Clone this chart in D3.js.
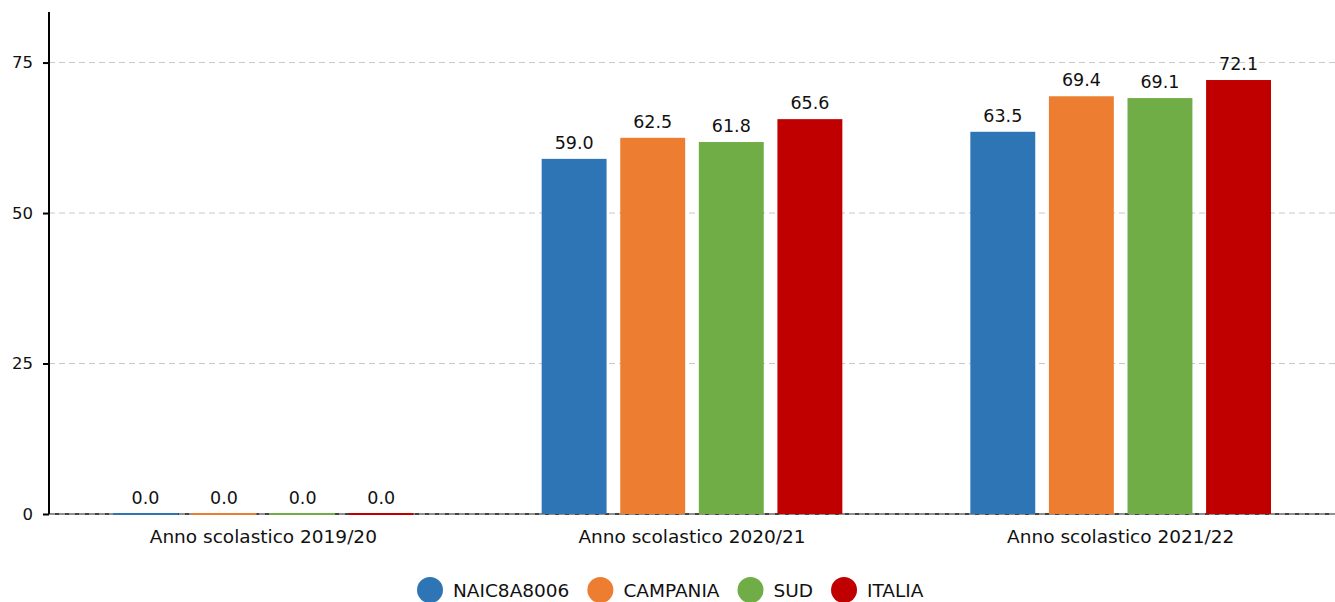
<!DOCTYPE html>
<html>
<head>
<meta charset="utf-8">
<script src="https://cdn.jsdelivr.net/npm/d3@7"></script>
<style>
  body { margin: 0; background: #fff; }
  svg text { font-family: "DejaVu Sans", sans-serif; fill: #111; }
</style>
</head>
<body>
<svg id="chart" width="1335" height="602"></svg>
<script>
// data
const categories = ["Anno scolastico 2019/20", "Anno scolastico 2020/21", "Anno scolastico 2021/22"];
const seriesNames = ["NAIC8A8006", "CAMPANIA", "SUD", "ITALIA"];
const seriesColors = ["#2e75b6", "#ed7d31", "#70ad47", "#c00000"];
const naic = [0.0, 59.0, 63.5];
const campania = [0.0, 62.5, 69.4];
const sud = [0.0, 61.8, 69.1];
const italia = [0.0, 65.6, 72.1];
const yTicks = [0, 25, 50, 75];

const values = [naic, campania, sud, italia];

var svg = d3.select("#chart");
var margin = {top: 12, right: 0, bottom: 88, left: 49};
var width = 1335 - margin.left - margin.right;
var height = 602 - margin.top - margin.bottom;

var x0 = d3.scaleBand().domain(categories).range([0, width]).padding(0);
var x1 = d3.scaleBand().domain(seriesNames).range([64, x0.bandwidth() - 64]).paddingInner(0.174);
var y = d3.scaleLinear().domain([0, 83.4]).range([height, 0]);

var g = svg.append("g")
    .attr("transform", "translate(" + margin.left + "," + margin.top + ")");

// grid
g.append("g")
  .selectAll("line")
  .data(yTicks.filter(t => t > 0))
  .enter().append("line")
    .attr("x1", 0)
    .attr("x2", width)
    .attr("y1", d => y(d))
    .attr("y2", d => y(d))
    .attr("stroke", "#c8c8c8")
    .attr("stroke-width", 1)
    .attr("stroke-dasharray", "6,4");

// zero line
g.append("line")
    .attr("x1", 0).attr("x2", width)
    .attr("y1", y(0)).attr("y2", y(0))
    .attr("stroke", "#444").attr("stroke-width", 2);
g.append("line")
    .attr("x1", 0).attr("x2", width)
    .attr("y1", y(0)).attr("y2", y(0))
    .attr("stroke", "#ddd").attr("stroke-width", 1)
    .attr("stroke-dasharray", "6,4");

// bars
var groups = g.selectAll(".grp")
  .data(categories)
  .enter().append("g")
    .attr("class", "grp")
    .attr("transform", d => "translate(" + x0(d) + ",0)");

groups.each(function(cat, ci) {
  var grp = d3.select(this);
  seriesNames.forEach(function(s, si) {
    var v = values[si][ci];
    var h = Math.max(2, y(0) - y(v));
    grp.append("rect")
      .attr("x", x1(s))
      .attr("y", y(0) - h + (v === 0 ? 1 : 0))
      .attr("width", x1.bandwidth())
      .attr("height", h)
      .attr("fill", seriesColors[si]);
    grp.append("text")
      .attr("x", x1(s) + x1.bandwidth() / 2)
      .attr("y", y(v) - 10)
      .attr("text-anchor", "middle")
      .attr("font-size", "17.5px")
      .text(v.toFixed(1));
  });
});

// y axis
var yAxis = d3.axisLeft(y).tickValues(yTicks).tickSize(6).tickPadding(10);
var ya = g.append("g").call(yAxis);
ya.select(".domain").remove();
ya.selectAll("text").attr("font-size", "16.5px").attr("font-family", "DejaVu Sans").attr("fill", "#111");
ya.selectAll("line").attr("stroke", "#000").attr("stroke-width", 2);
g.append("line")
    .attr("x1", 0).attr("x2", 0)
    .attr("y1", 0).attr("y2", height)
    .attr("stroke", "#000").attr("stroke-width", 2);

// category labels
g.append("g")
  .selectAll("text")
  .data(categories)
  .enter().append("text")
    .attr("x", d => x0(d) + x0.bandwidth() / 2)
    .attr("y", height + 29)
    .attr("text-anchor", "middle")
    .attr("font-size", "18.5px")
    .text(d => d);

// legend
var legend = svg.append("g");
var lx = 430;
seriesNames.forEach(function(s, i) {
  legend.append("circle")
    .attr("cx", lx)
    .attr("cy", 590)
    .attr("r", 13)
    .attr("fill", seriesColors[i]);
  var t = legend.append("text")
    .attr("x", lx + 23)
    .attr("y", 597)
    .attr("font-size", "18.5px")
    .text(s);
  lx = lx + 23 + t.node().getComputedTextLength() + 31;
});
</script>
</body>
</html>
